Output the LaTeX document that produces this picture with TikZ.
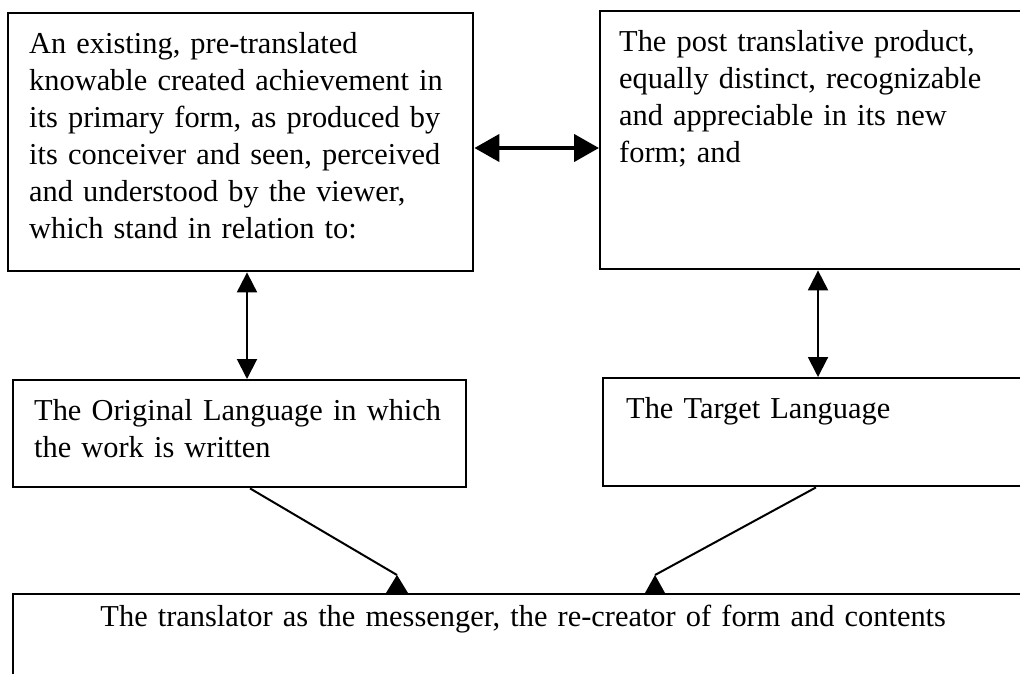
\documentclass[tikz,border=0pt]{standalone}
\usepackage{fontspec}
\setmainfont{Liberation Serif}
\usetikzlibrary{arrows.meta,calc}

\begin{document}
\begin{tikzpicture}[x=0.5pt, y=-0.5pt,
  box/.style={draw, line width=1.2pt, anchor=north west, align=left,
    font=\fontsize{15.2}{18.5}\selectfont, text height=12pt, inner ysep=8pt},
  link/.style={line width=1pt,
    {Triangle[length=10pt,width=10pt]}-{Triangle[length=10pt,width=10pt]}},
  bold link/.style={line width=2.2pt,
    {Triangle[length=12.5pt,width=13.5pt]}-{Triangle[length=12.5pt,width=13.5pt]}},
  feed/.style={line width=1pt}]

\useasboundingbox (0,0) rectangle (1020,673);
\clip (0,0) rectangle (1020,673);

% Top row: the work and its translated product
\node[box, inner xsep=10.5pt, text width=211.5pt, text depth=101pt] (work) at (7,12)
  {An existing, pre-translated\\ knowable created achievement in\\ its primary form, as produced by\\ its conceiver and seen, perceived\\ and understood by the viewer,\\ which stand in relation to:};
\node[box, inner xsep=9.5pt, text width=197.5pt, text depth=101pt] (product) at (599,10)
  {The post translative product,\\ equally distinct, recognizable\\ and appreciable in its new\\ form; and};

% Middle row: the two languages
\node[box, inner xsep=10.5pt, text width=205.5pt, text depth=25.5pt] (source) at (12,379)
  {The Original Language in which\\ the work is written};
\node[box, inner xsep=11.5pt, text width=192pt, text depth=26pt] (target) at (602,377)
  {The Target Language};

% Bottom: the translator
\node[box, align=center, inner xsep=10pt, text width=490pt, text height=8pt, text depth=17.5pt] (translator) at (12,593)
  {The translator as the messenger, the re-creator of form and contents};

% Connectors
\coordinate (hy) at (0,148); % level of the top arrow
\coordinate (lx) at (247,0);
\coordinate (rx) at (818,0);
\coordinate (dl) at (250,0);
\coordinate (dr) at (816,0);
\draw[bold link] (work.east |- hy) -- (product.west |- hy);
\draw[link] (work.south -| lx) -- (source.north -| lx);
\draw[link] (product.south -| rx) -- (target.north -| rx);

% Lines into the translator box, ending on small heads
\coordinate (inL) at ($(translator.north west)+(385,-18)$);
\coordinate (inR) at ($(translator.north west)+(643,-18)$);
\draw[feed] (source.south -| dl) -- (inL);
\draw[feed] (target.south -| dr) -- (inR);
\fill (inL) -- ++(-11,18) -- ++(22,0) -- cycle;
\fill (inR) -- ++(-10,18) -- ++(20,0) -- cycle;

\end{tikzpicture}
\end{document}
